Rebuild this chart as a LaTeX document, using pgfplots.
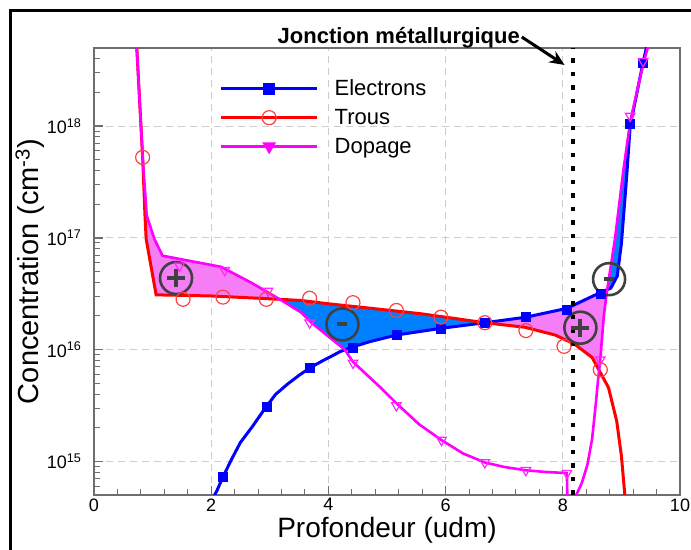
\documentclass[border=0pt]{standalone}
\usepackage{fontspec}
\setmainfont{Liberation Sans}
\usepackage{pgfplots}
\pgfplotsset{compat=1.18}
\usepgfplotslibrary{fillbetween}
\usepackage{pgfplotstable}
\usetikzlibrary{arrows.meta}

\definecolor{pinkfill}{RGB}{245,125,245}
\definecolor{bluefill}{RGB}{0,128,255}
\definecolor{axgray}{RGB}{110,110,110}
\definecolor{gridgray}{RGB}{205,205,205}
\definecolor{anngray}{RGB}{64,64,64}
\definecolor{mag}{RGB}{255,0,255}
\definecolor{pblue}{RGB}{0,0,255}
\definecolor{pred}{RGB}{255,0,0}

% Electrons line
\pgfplotstableread{
x y
2.05 4.90e14
2.10 5.50e14
2.20 7.24e14
2.35 1.05e15
2.50 1.48e15
2.70 2.04e15
2.94 3.09e15
3.10 3.98e15
3.30 4.90e15
3.50 5.89e15
3.68 6.84e15
3.90 7.94e15
4.05 8.71e15
4.20 9.60e15
4.42 1.06e16
4.70 1.175e16
5.16 1.35e16
5.92 1.55e16
6.67 1.74e16
7.37 1.95e16
8.07 2.34e16
8.64 3.24e16
8.82 3.55e16
8.93 4.57e16
9.00 8.91e16
9.09 3.55e17
9.15 1.00e18
9.37 3.72e18
9.47 6.31e18
}\electrons
\pgfplotstableread{
x y
2.20 7.24e14
2.94 3.09e15
3.68 6.84e15
4.42 1.05e16
5.16 1.35e16
5.92 1.55e16
6.67 1.74e16
7.37 1.95e16
8.07 2.29e16
8.64 3.16e16
9.15 1.05e18
9.37 3.72e18
}\electronsmk
% Holes line
\pgfplotstableread{
x y
0.72 6.31e18
0.83 5.25e17
0.87 1.585e17
0.89 9.77e16
1.06 3.09e16
2.00 3.02e16
3.17 2.82e16
3.54 2.75e16
4.00 2.57e16
4.90 2.29e16
5.59 2.09e16
6.00 1.95e16
6.67 1.74e16
7.35 1.585e16
7.87 1.35e16
8.20 1.12e16
8.50 8.51e15
8.78 4.57e15
8.92 2.29e15
9.00 1.12e15
9.06 4.90e14
9.08 4.00e14
}\trous
\pgfplotstableread{
x y
0.83 5.25e17
1.52 2.82e16
2.20 2.95e16
2.94 2.82e16
3.68 2.88e16
4.42 2.63e16
5.16 2.24e16
5.92 1.95e16
6.67 1.74e16
7.37 1.48e16
8.02 1.07e16
8.64 6.61e15
}\trousmk
% Doping p side
\pgfplotstableread{
x y
0.72 6.31e18
0.83 5.25e17
0.90 1.585e17
1.03 9.77e16
1.17 6.92e16
1.57 6.31e16
2.17 5.50e16
2.68 3.98e16
3.17 2.82e16
3.54 2.14e16
3.71 1.74e16
4.28 1.00e16
4.42 7.76e15
4.91 4.47e15
5.16 3.31e15
5.55 2.14e15
5.93 1.55e15
6.30 1.175e15
6.67 9.77e14
7.00 8.91e14
7.37 8.32e14
7.70 8.04e14
8.07 7.85e14
8.08 3.98e14
}\dopp
% Doping n side
\pgfplotstableread{
x y
8.22 4.90e14
8.32 6.31e14
8.42 9.33e14
8.50 1.585e15
8.56 3.16e15
8.60 5.25e15
8.64 8.13e15
8.70 2.00e16
8.75 3.24e16
8.89 9.77e16
9.03 3.89e17
9.15 1.10e18
9.37 3.55e18
9.50 6.31e18
}\dopn
\pgfplotstableread{
x y
1.46 5.62e16
2.23 5.13e16
2.97 3.35e16
3.68 1.74e16
4.42 7.59e15
5.16 3.16e15
5.93 1.55e15
6.67 9.77e14
7.37 8.32e14
8.07 7.85e14
8.64 8.13e15
9.15 1.23e18
9.37 3.80e18
}\dopmk

\begin{document}
\begin{tikzpicture}
\begin{axis}[
  name=ax,
  scale only axis,
  width=586pt, height=447pt,
  xmin=0, xmax=10,
  ymode=log, ymin=5e14, ymax=5e18,
  xtick={0,2,4,6,8,10},
  xticklabels={0,2,4,6,8,10},
  minor x tick num=4,
  ytick={1e15,1e16,1e17,1e18},
  yticklabels={10\textsuperscript{15},10\textsuperscript{16},10\textsuperscript{17},10\textsuperscript{18}},
  minor ytick={6e14,7e14,8e14,9e14,2e15,3e15,4e15,5e15,6e15,7e15,8e15,9e15,2e16,3e16,4e16,5e16,6e16,7e16,8e16,9e16,2e17,3e17,4e17,5e17,6e17,7e17,8e17,9e17,2e18,3e18,4e18},
  tick pos=left,
  grid=major,
  major grid style={draw=gridgray, line width=1pt, dash pattern=on 7pt off 5pt},
  axis line style={draw=axgray, line width=1.6pt},
  major tick style={draw=axgray, line width=1.3pt},
  minor tick style={draw=axgray, line width=1pt},
  major tick length=9pt, minor tick length=6pt,
  tick label style={font=\fontsize{18}{20}\selectfont},
  xticklabel style={yshift=0pt},
  yticklabel style={xshift=-9pt},
  xlabel={Profondeur (udm)},
  ylabel={Concentration (cm\textsuperscript{-3})},
  xlabel style={font=\fontsize{28}{30}\selectfont, at={(rel axis cs:0.5,-0.094)}, anchor=base, inner sep=0pt},
  ylabel style={font=\fontsize{29}{32}\selectfont, at={(rel axis cs:-0.109,0.5)}, anchor=center},
  legend style={at={(rel axis cs:0.209,0.938)}, anchor=north west, draw=none, fill=none,
    font=\fontsize{22}{24}\selectfont, row sep=8pt, column sep=14pt, cells={anchor=west}},
  legend image code/.code={\draw[#1, mark repeat=2, mark phase=2] plot coordinates {(0pt,0pt) (48pt,0pt) (96pt,0pt)};},
]
\addlegendimage{pblue, line width=3pt, mark=square*, mark size=4.5pt, mark options={solid}}
\addlegendentry{Electrons}
\addlegendimage{pred, line width=3pt, mark=o, mark size=7pt, mark options={solid, line width=1.2pt, draw=pred!75}}
\addlegendentry{Trous}
\addlegendimage{mag, line width=3pt, mark=triangle*, mark size=5pt, mark options={solid, rotate=180}}
\addlegendentry{Dopage}

% invisible named paths
\addplot[draw=none, name path=B, forget plot] table[x=x,y=y] {\electrons};
\addplot[draw=none, name path=R, forget plot] table[x=x,y=y] {\trous};
\addplot[draw=none, name path=MP, forget plot] table[x=x,y=y] {\dopp};
\addplot[draw=none, name path=MN, forget plot] table[x=x,y=y] {\dopn};

% fills
\addplot[fill=pinkfill, draw=none, forget plot] fill between[of=MP and R, soft clip={(axis cs:0.8,1e14) rectangle (axis cs:3.17,1e19)}];
\addplot[fill=bluefill, draw=none, forget plot] fill between[of=R and MP, soft clip={(axis cs:3.17,1e14) rectangle (axis cs:4.28,1e19)}];
\addplot[fill=bluefill, draw=none, forget plot] fill between[of=R and B, soft clip={(axis cs:4.28,1e14) rectangle (axis cs:6.67,1e19)}];
\addplot[fill=pinkfill, draw=none, forget plot] fill between[of=B and R, soft clip={(axis cs:6.67,1e14) rectangle (axis cs:8.62,1e19)}];
\addplot[fill=pinkfill, draw=none, forget plot] fill between[of=B and MN, soft clip={(axis cs:8.62,1e14) rectangle (axis cs:8.76,1e19)}];
\addplot[fill=bluefill, draw=none, forget plot] fill between[of=MN and B, soft clip={(axis cs:8.76,1e14) rectangle (axis cs:9.6,1e19)}];

% lines
\addplot[pblue, line width=3pt, forget plot] table[x=x,y=y] {\electrons};
\addplot[pred, line width=3pt, forget plot] table[x=x,y=y] {\trous};
\addplot[mag, line width=2.6pt, forget plot] table[x=x,y=y] {\dopp};
\addplot[mag, line width=2.6pt, forget plot] table[x=x,y=y] {\dopn};

% marks
\addplot[only marks, mark=square*, mark size=4.5pt, pblue, forget plot] table[x=x,y=y] {\electronsmk};
\addplot[only marks, mark=o, mark size=7pt, draw=pred!75, line width=1.2pt, forget plot] table[x=x,y=y] {\trousmk};
\addplot[only marks, mark=triangle, mark size=5.5pt, mag!85, line width=1.2pt, mark options={rotate=180}, forget plot] table[x=x,y=y] {\dopmk};

% metallurgical junction
\addplot[black, line width=4.5pt, dash pattern=on 4.5pt off 9pt, forget plot] coordinates {(8.17,5e14) (8.17,5e18)};

% charge annotations
\node[circle, draw=anngray, line width=2.6pt, minimum size=32pt, inner sep=0pt] (c1) at (axis cs:1.40,4.37e16) {};
\node[circle, draw=anngray, line width=2.6pt, minimum size=32pt, inner sep=0pt] (c2) at (axis cs:4.24,1.68e16) {};
\node[circle, draw=anngray, line width=2.6pt, minimum size=32pt, inner sep=0pt] (c3) at (axis cs:8.30,1.57e16) {};
\node[circle, draw=anngray, line width=2.6pt, minimum size=32pt, inner sep=0pt] (c4) at (axis cs:8.79,4.27e16) {};
\draw[anngray, line width=4pt] ([xshift=-9pt]c1.center) -- ([xshift=9pt]c1.center) ([yshift=-9pt]c1.center) -- ([yshift=9pt]c1.center);
\draw[anngray, line width=4pt] ([xshift=-9pt]c3.center) -- ([xshift=9pt]c3.center) ([yshift=-9pt]c3.center) -- ([yshift=9pt]c3.center);
\draw[anngray, line width=4pt] ([xshift=-5pt]c2.center) -- ([xshift=5pt]c2.center);
\draw[anngray, line width=4pt] ([xshift=-5pt]c4.center) -- ([xshift=5pt]c4.center);

\coordinate (jt) at (rel axis cs:0.52,1.009);
\coordinate (ja) at (rel axis cs:0.730,1.0246);
\coordinate (jb) at (rel axis cs:0.803,0.962);
\end{axis}
\node[anchor=base, font=\bfseries\fontsize{22}{24}\selectfont] at (jt) {Jonction métallurgique};
\draw[-{Stealth[length=15pt,width=13pt]}, line width=3pt] (ja) -- (jb);
\pgfresetboundingbox
\path[use as bounding box] ([xshift=-94pt,yshift=-55pt]ax.south west) rectangle ([xshift=11pt,yshift=48pt]ax.north east);
\draw[line width=3pt] ([xshift=-83pt,yshift=-70pt]ax.south west) -- ([xshift=-83pt,yshift=37pt]ax.north west) -- ([xshift=30pt,yshift=37pt]ax.north east);
\end{tikzpicture}
\end{document}
